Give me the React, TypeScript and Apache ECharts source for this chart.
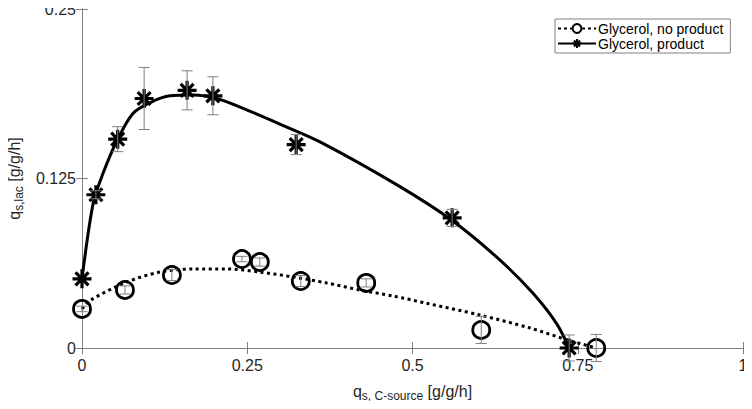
import React, { useEffect, useRef } from "react";
import * as echarts from "echarts";

// Measured data: Glycerol, product (asterisks)
const prodX = [0, 0.021, 0.054, 0.094, 0.159, 0.198, 0.324, 0.56, 0.737];
const prodY = [0.051, 0.113, 0.154, 0.184, 0.19, 0.186, 0.15, 0.096, 0.0];
const prodErr = [0, 0.003, 0.0092, 0.0229, 0.0144, 0.014, 0.0074, 0.0063, 0.0096];

// Measured data: Glycerol, no product (circles)
const noProdX = [0, 0.065, 0.136, 0.242, 0.269, 0.331, 0.43, 0.604, 0.778];
const noProdY = [0.0288, 0.0428, 0.0538, 0.0656, 0.0634, 0.0494, 0.048, 0.0133, 0.0];
const noProdErr = [0.002, 0.003, 0.004, 0.002, 0.003, 0.004, 0.003, 0.01, 0.01];

// Fitted curves
const fitProdX = [0, 0.017, 0.032, 0.053, 0.077, 0.103, 0.133, 0.168, 0.204, 0.25, 0.295, 0.36, 0.481, 0.56, 0.632, 0.682, 0.718, 0.737];
const fitProdY = [0.051, 0.107, 0.129, 0.153, 0.173, 0.181, 0.186, 0.1866, 0.184, 0.1755, 0.166, 0.152, 0.119, 0.094, 0.065, 0.0405, 0.018, 0.0];
const fitNoProdX = [0, 0.012, 0.068, 0.118, 0.168, 0.219, 0.269, 0.319, 0.37, 0.42, 0.471, 0.521, 0.602, 0.678, 0.734, 0.778];
const fitNoProdY = [0.0288, 0.035, 0.0487, 0.056, 0.0583, 0.0583, 0.056, 0.0524, 0.048, 0.0428, 0.0383, 0.033, 0.0243, 0.0147, 0.006, 0.0];

const xTicks = [0, 0.25, 0.5, 0.75, 1];
const yTicks = [0, 0.125, 0.25];

const STAR = "path://M5,0L5,10M0,5L10,5M1.6,1.6L8.4,8.4M1.6,8.4L8.4,1.6";
const FONT = "Liberation Sans";

function errRender(params: any, api: any) {
  const x = api.value(0);
  const y = api.value(1);
  const e = api.value(2);
  if (!e) return null;
  const top = api.coord([x, y + e]);
  const bot = api.coord([x, y - e]);
  const w = 5.5;
  const style = { stroke: "#7f7f7f", lineWidth: 1 };
  return {
    type: "group",
    children: [
      { type: "line", shape: { x1: top[0], y1: top[1], x2: bot[0], y2: bot[1] }, style },
      { type: "line", shape: { x1: top[0] - w, y1: top[1], x2: top[0] + w, y2: top[1] }, style },
      { type: "line", shape: { x1: bot[0] - w, y1: bot[1], x2: bot[0] + w, y2: bot[1] }, style },
    ],
  };
}

const nameStyle = {
  fontSize: 16,
  color: "#262626",
  fontFamily: FONT,
  rich: {
    q: { fontSize: 16, color: "#262626", fontFamily: FONT, lineHeight: 20 },
    sub: { fontSize: 12, color: "#262626", fontFamily: FONT, lineHeight: 20, padding: [10, 0, 0, 0] },
  },
};

export default function App() {
  const ref = useRef<HTMLDivElement>(null);
  useEffect(() => {
    if (!ref.current) return;
    const chart = echarts.init(ref.current, null, { renderer: "svg" });
    const axisCommon = {
      type: "value" as const,
      axisLine: { show: true, lineStyle: { color: "#808080", width: 1 } },
      axisTick: { show: true, inside: true, length: 6, lineStyle: { color: "#808080" } },
      splitLine: { show: false },
    };
    chart.setOption({
      animation: false,
      textStyle: { fontFamily: FONT },
      grid: { left: 82, right: 9, top: 9, bottom: 61, containLabel: false, outerBoundsMode: "none" },
      xAxis: [
        {
          ...axisCommon,
          min: 0,
          max: 1,
          interval: 0.25,
          axisLabel: {
            color: "#262626",
            fontSize: 16,
            margin: 9,
            fontFamily: FONT,
            formatter: (v: number) => (xTicks.includes(v) ? String(v) : ""),
          },
          name: "{q|q}{sub|s, C-source}{q| [g/g/h]}",
          nameLocation: "middle",
          nameGap: 33,
          nameTextStyle: nameStyle,
        },
        {
          ...axisCommon,
          position: "top",
          min: 0,
          max: 1,
          interval: 0.25,
          axisLabel: { show: false },
        },
      ],
      yAxis: [
        {
          ...axisCommon,
          min: 0,
          max: 0.25,
          interval: 0.125,
          axisLabel: {
            color: "#262626",
            fontSize: 16,
            margin: 6,
            fontFamily: FONT,
            formatter: (v: number) => (yTicks.includes(v) ? String(v) : ""),
          },
          name: "{q|q}{sub|s,lac}{q| [g/g/h]}",
          nameLocation: "middle",
          nameGap: 54,
          nameRotate: 90,
          nameTextStyle: nameStyle,
        },
        {
          ...axisCommon,
          position: "right",
          min: 0,
          max: 0.25,
          interval: 0.125,
          axisLabel: { show: false },
        },
      ],
      legend: {
        left: 555,
        top: 19,
        orient: "vertical",
        backgroundColor: "#ffffff",
        borderColor: "#808080",
        borderWidth: 1,
        borderRadius: 0,
        padding: [2, 7, 2, 2],
        itemWidth: 38,
        itemHeight: 11,
        itemGap: 0,
        textStyle: { fontSize: 14, color: "#000", fontFamily: FONT, lineHeight: 15, padding: [0, 0, 0, -3] },
        data: ["Glycerol, no product", "Glycerol, product"],
      },
      series: [
        {
          name: "Glycerol, no product",
          type: "line",
          data: [],
          symbol: "circle",
          symbolSize: 11,
          itemStyle: { color: "#fff", borderColor: "#000", borderWidth: 2.5 },
          lineStyle: { color: "#000", width: 3, type: [3, 3] },
        },
        {
          name: "Glycerol, product",
          type: "line",
          data: [],
          symbol: STAR,
          symbolSize: 11,
          itemStyle: { color: "none", borderColor: "#000", borderWidth: 2.5 },
          lineStyle: { color: "#000", width: 3, type: "solid" },
        },
        {
          name: "fitNoProd",
          type: "line",
          data: fitNoProdX.map((x, i) => [x, fitNoProdY[i]]),
          smooth: 0.3,
          showSymbol: false,
          symbol: "none",
          lineStyle: { color: "#000", width: 3, type: [3, 3.5] },
          z: 2,
        },
        {
          name: "fitProd",
          type: "line",
          data: fitProdX.map((x, i) => [x, fitProdY[i]]),
          smooth: 0.3,
          showSymbol: false,
          symbol: "none",
          lineStyle: { color: "#000", width: 3, type: "solid" },
          z: 2,
        },
        {
          name: "errNoProd",
          type: "custom",
          renderItem: errRender,
          data: noProdX.map((x, i) => [x, noProdY[i], noProdErr[i]]),
          z: 4,
          clip: false,
        },
        {
          name: "errProd",
          type: "custom",
          renderItem: errRender,
          data: prodX.map((x, i) => [x, prodY[i], prodErr[i]]),
          z: 4,
          clip: false,
        },
        {
          name: "ptsNoProd",
          type: "scatter",
          data: noProdX.map((x, i) => [x, noProdY[i]]),
          symbol: "circle",
          symbolSize: 17,
          itemStyle: { color: "rgba(255,255,255,0)", borderColor: "#000", borderWidth: 2.8, opacity: 1 },
          z: 3,
        },
        {
          name: "ptsProd",
          type: "scatter",
          data: prodX.map((x, i) => [x, prodY[i]]),
          symbol: STAR,
          symbolSize: 19,
          itemStyle: { color: "none", borderColor: "#000", borderWidth: 3.2, opacity: 1 },
          z: 3,
        },
      ],
    });
    return () => chart.dispose();
  }, []);
  return <div ref={ref} style={{ width: 752, height: 409, margin: -8 }} />;
}
